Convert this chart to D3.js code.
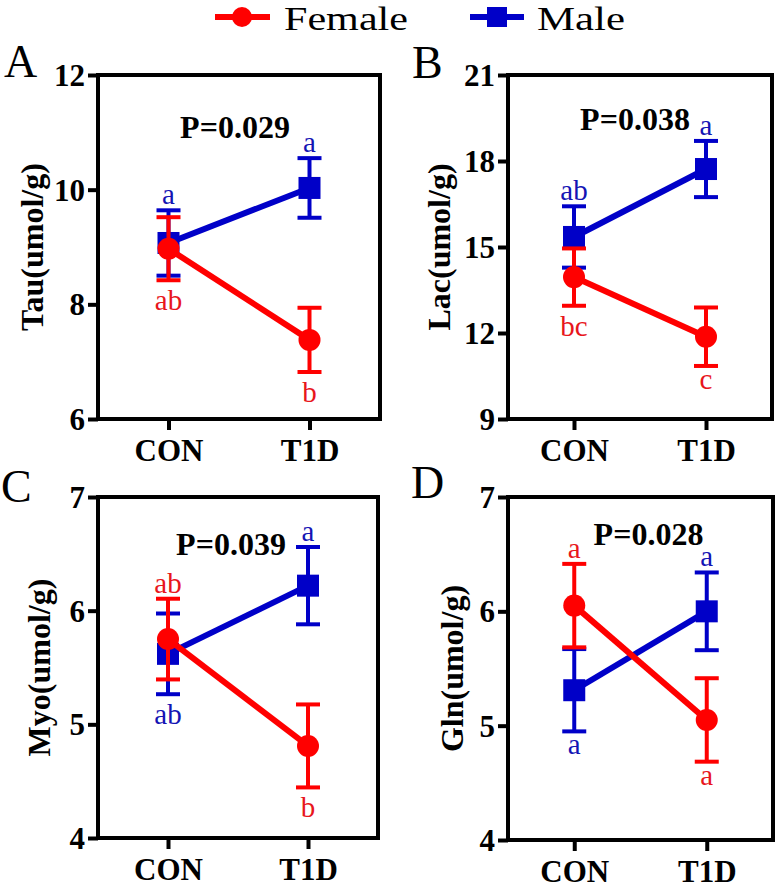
<!DOCTYPE html>
<html>
<head>
<meta charset="utf-8">
<script src="https://cdn.jsdelivr.net/npm/d3@7"></script>
<style>
  html, body { margin: 0; padding: 0; background: #fff; }
  svg { display: block; }
</style>
</head>
<body>
<svg id="chart" width="782" height="888"></svg>
<script>
// ---------------- data ----------------
const categories = ["CON", "T1D"];
const seriesNames = ["Female", "Male"];
const panelIds = ["A", "B", "C", "D"];
const yTitles = ["Tau(umol/g)", "Lac(umol/g)", "Myo(umol/g)", "Gln(umol/g)"];
const pLabels = ["P=0.029", "P=0.038", "P=0.039", "P=0.028"];
const yDomains = [[6, 12], [9, 21], [4, 7], [4, 7]];
const yTicks = [[6, 8, 10, 12], [9, 12, 15, 18, 21], [4, 5, 6, 7], [4, 5, 6, 7]];
const femaleMean = [[8.97, 7.38], [13.95, 11.87], [5.75, 4.81], [6.05, 5.05]];
const femaleSem  = [[0.55, 0.56], [1.0, 1.02], [0.355, 0.365], [0.365, 0.365]];
const maleMean   = [[9.07, 10.03], [15.35, 17.72], [5.62, 6.22], [5.31, 6.0]];
const maleSem    = [[0.57, 0.52], [1.07, 0.98], [0.355, 0.34], [0.36, 0.34]];
const femaleLetters = [["ab", "b"], ["bc", "c"], ["ab", "b"], ["a", "a"]];
const maleLetters   = [["a", "a"], ["ab", "a"], ["ab", "a"], ["a", "a"]];
const femaleLetterSide = [["below", "below"], ["below", "below"], ["above", "below"], ["above", "below"]];
const maleLetterSide   = [["above", "above"], ["above", "above"], ["below", "above"], ["below", "above"]];

// ---------------- layout / style ----------------
const RED = "#ff0000", BLUE = "#0000c8";
const RED_TXT = "#e8161c", BLUE_TXT = "#1414b4";

// pick an installed serif face (Times-like) if any
function pickFont() {
  const cands = ["Liberation Serif", "Tinos", "Times New Roman", "Nimbus Roman", "Nimbus Roman No9 L",
                 "DejaVu Serif", "Noto Serif", "FreeSerif", "Noto Serif CJK SC", "Noto Serif CJK JP"];
  const ctx = document.createElement("canvas").getContext("2d");
  const s = "Tau(umol/g) P=0.029 CON T1D Female Male abc";
  const bases = ["monospace", "sans-serif", "serif"];
  const bw = bases.map(b => { ctx.font = `bold 40px ${b}`; return ctx.measureText(s).width; });
  for (const c of cands) {
    for (let k = 0; k < bases.length; k++) {
      ctx.font = `bold 40px "${c}", ${bases[k]}`;
      if (Math.abs(ctx.measureText(s).width - bw[k]) > 0.5) return `"${c}", serif`;
    }
  }
  return "serif";
}
const FONT = pickFont();

const layout = [
  { box: [98, 75, 380, 419],  titleOff: 55, letter: [4, 77],   p: [-4, 63] },
  { box: [508, 75, 772, 419], titleOff: 58, letter: [412, 78], p: [-5, 55] },
  { box: [98, 497, 378, 838], titleOff: 48, letter: [1, 502],  p: [-7, 58] },
  { box: [508, 497, 773, 840], titleOff: 45, letter: [411, 498], p: [8, 48] }
];

const svg = d3.select("#chart");

// legend
const leg = svg.append("g");
leg.append("line").attr("x1", 215).attr("x2", 270).attr("y1", 17).attr("y2", 17)
  .attr("stroke", RED).attr("stroke-width", 6);
leg.append("circle").attr("cx", 242).attr("cy", 17).attr("r", 10).attr("fill", RED);
leg.append("text").attr("x", 284).attr("y", 30).text(seriesNames[0])
  .style("font-family", FONT).attr("font-size", 33).attr("textLength", 124).attr("lengthAdjust", "spacingAndGlyphs");
leg.append("line").attr("x1", 470).attr("x2", 524).attr("y1", 17).attr("y2", 17)
  .attr("stroke", BLUE).attr("stroke-width", 6);
leg.append("rect").attr("x", 487).attr("y", 7).attr("width", 20).attr("height", 20).attr("fill", BLUE);
leg.append("text").attr("x", 537).attr("y", 30).text(seriesNames[1])
  .style("font-family", FONT).attr("font-size", 33).attr("textLength", 88).attr("lengthAdjust", "spacingAndGlyphs");

panelIds.forEach((id, i) => {
  const [L, T, R, B] = layout[i].box;
  const g = svg.append("g");
  const x = d3.scalePoint().domain(categories).range([L, R]).padding(0.5);
  const y = d3.scaleLinear().domain(yDomains[i]).range([B, T]);

  // axes
  const ya = g.append("g").attr("transform", `translate(${L},0)`)
    .call(d3.axisLeft(y).tickValues(yTicks[i]).tickFormat(d3.format("d")).tickSize(10).tickSizeOuter(0).tickPadding(3));
  const xa = g.append("g").attr("transform", `translate(0,${B})`)
    .call(d3.axisBottom(x).tickSize(11).tickSizeOuter(0).tickPadding(9));
  [ya, xa].forEach(a => {
    a.attr("font-family", null);
    a.select(".domain").remove();
    a.selectAll(".tick line").attr("stroke", "#000").attr("stroke-width", 4);
    a.selectAll(".tick text").attr("fill", "#000").style("font-family", FONT)
      .attr("font-weight", "bold").attr("font-size", 31);
  });
  ya.selectAll(".tick text").attr("dy", "0.34em");
  xa.selectAll(".tick text").attr("dy", "0.71em");

  // box
  g.append("rect").attr("x", L).attr("y", T).attr("width", R - L).attr("height", B - T)
    .attr("fill", "none").attr("stroke", "#000").attr("stroke-width", 4);

  // y title
  g.append("text")
    .attr("transform", `translate(${L - layout[i].titleOff},${(T + B) / 2}) rotate(-90)`)
    .attr("text-anchor", "middle").style("font-family", FONT).attr("font-weight", "bold")
    .attr("font-size", 32).text(yTitles[i]);

  // panel letter
  g.append("text").attr("x", layout[i].letter[0]).attr("y", layout[i].letter[1])
    .style("font-family", FONT).attr("font-size", 46).text(id);

  // P label
  g.append("text").attr("x", (L + R) / 2 + layout[i].p[0]).attr("y", T + layout[i].p[1])
    .attr("text-anchor", "middle").style("font-family", FONT).attr("font-weight", "bold")
    .attr("font-size", 32).text(pLabels[i]);

  const series = [
    { mean: maleMean[i], sem: maleSem[i], letters: maleLetters[i], side: maleLetterSide[i], col: BLUE, txt: BLUE_TXT, shape: "square" },
    { mean: femaleMean[i], sem: femaleSem[i], letters: femaleLetters[i], side: femaleLetterSide[i], col: RED, txt: RED_TXT, shape: "circle" }
  ];

  series.forEach(s => {
    const pts = categories.map((c, j) => ({ c, m: s.mean[j], e: s.sem[j], lab: s.letters[j], side: s.side[j] }));
    const sg = g.append("g");
    pts.forEach(p => {
      const cx = x(p.c);
      sg.append("line").attr("x1", cx).attr("x2", cx).attr("y1", y(p.m - p.e)).attr("y2", y(p.m + p.e))
        .attr("stroke", s.col).attr("stroke-width", 4);
      [p.m - p.e, p.m + p.e].forEach(v => {
        sg.append("line").attr("x1", cx - 12).attr("x2", cx + 12).attr("y1", y(v)).attr("y2", y(v))
          .attr("stroke", s.col).attr("stroke-width", 4);
      });
    });
    sg.append("path").datum(pts)
      .attr("d", d3.line().x(p => x(p.c)).y(p => y(p.m)))
      .attr("fill", "none").attr("stroke", s.col).attr("stroke-width", 6);
    pts.forEach(p => {
      if (s.shape === "circle") {
        sg.append("circle").attr("cx", x(p.c)).attr("cy", y(p.m)).attr("r", 11).attr("fill", s.col);
      } else {
        sg.append("rect").attr("x", x(p.c) - 11).attr("y", y(p.m) - 11).attr("width", 22).attr("height", 22).attr("fill", s.col);
      }
    });
    pts.forEach(p => {
      const asc = /[bdfhklt]/.test(p.lab);
      const yy = p.side === "above" ? y(p.m + p.e) - 6 : y(p.m - p.e) + (asc ? 30 : 23);
      sg.append("text").attr("x", x(p.c)).attr("y", yy).attr("text-anchor", "middle")
        .style("font-family", FONT).attr("font-size", 29).attr("fill", s.txt).text(p.lab);
    });
  });
});
</script>
</body>
</html>
